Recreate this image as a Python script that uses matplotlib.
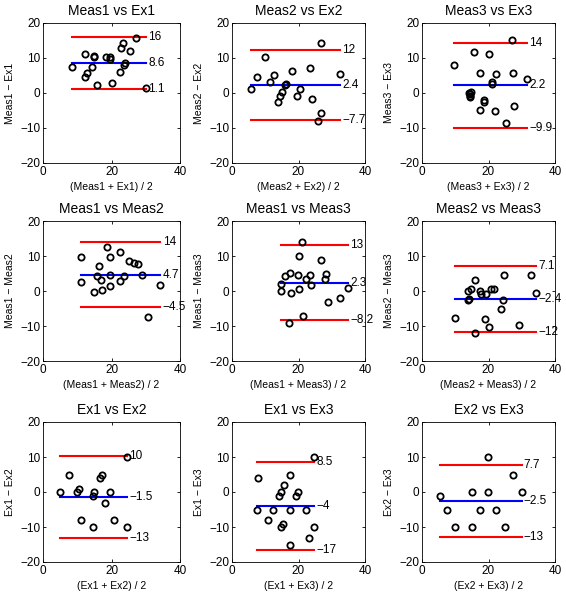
import numpy as np
import matplotlib
matplotlib.use("Agg")
import matplotlib.pyplot as plt

plt.rcParams['font.family'] = ['Liberation Sans', 'DejaVu Sans']

# mean of the two measurements (x) and their difference (y), per comparison
m1e1_avg = [8.6, 12.3, 12.9, 12.4, 14.3, 14.9, 15.0, 15.8, 18.5, 19.5, 19.7, 20.1, 22.5, 22.8, 23.4, 23.6, 23.8, 25.4, 27.1, 30.2]
m1e1_diff = [7.5, 11.1, 5.8, 4.7, 7.5, 10.3, 10.6, 2.3, 10.3, 10.3, 9.8, 2.8, 6.0, 12.9, 14.2, 7.9, 8.5, 11.9, 15.8, 1.5]

m2e2_avg = [5.6, 7.4, 9.9, 11.5, 12.5, 13.7, 14.4, 15.0, 16.0, 16.3, 18.0, 19.4, 20.5, 23.4, 24.0, 25.8, 26.9, 26.8, 32.5]
m2e2_diff = [1.2, 4.7, 10.2, 3.0, 5.2, -2.5, -1.0, 0.2, 2.4, 2.7, 6.3, -0.9, 1.1, 7.0, -1.8, -8.1, -5.7, 14.2, 5.4]

m3e3_avg = [9.7, 15.5, 14.2, 14.3, 14.4, 14.6, 14.5, 17.5, 17.3, 18.6, 18.6, 20.1, 21.2, 21.0, 22.2, 22.0, 25.4, 27.0, 27.4, 27.7, 31.7]
m3e3_diff = [7.9, 11.6, 0.0, -0.8, -1.1, 0.3, -0.4, 5.8, -5.0, -1.9, -2.6, 11.0, 3.2, 2.7, 5.3, -5.2, -8.5, 15.0, 5.8, -3.8, 4.0]

m1m2_avg = [11.0, 11.1, 15.0, 15.9, 16.3, 16.8, 17.1, 18.6, 19.5, 19.6, 19.6, 22.5, 22.5, 23.7, 25.0, 26.5, 27.7, 28.9, 30.8, 34.3]
m1m2_diff = [9.8, 2.7, -0.4, 4.3, 7.1, 3.2, 0.2, 12.7, 1.3, 9.8, 4.5, 11.1, 2.8, 4.3, 8.7, 8.0, 7.8, 4.5, -7.5, 1.7]

m1m3_avg = [14.7, 14.7, 15.8, 17.0, 17.4, 17.7, 19.7, 20.0, 20.0, 21.2, 21.5, 22.2, 23.5, 23.8, 26.7, 28.2, 28.0, 29.0, 32.5, 35.0]
m1m3_diff = [2.1, 0.1, 4.3, -9.2, 5.1, -0.7, 4.6, 10.0, 0.6, 14.1, -7.1, 3.5, 4.7, 1.7, 8.9, 5.0, 3.5, -3.0, -2.0, 0.8]

m2m3_avg = [9.9, 13.7, 13.8, 14.0, 15.8, 14.8, 15.8, 17.5, 17.6, 19.2, 19.0, 20.2, 20.9, 21.8, 23.7, 24.5, 24.6, 29.1, 32.9, 34.4]
m2m3_diff = [-7.6, -0.1, -2.5, -2.2, 3.1, 0.5, -11.9, 0.1, -0.8, -0.8, -8.1, -10.2, 0.7, 0.7, -5.1, -2.7, 4.5, -9.6, 4.5, -0.7]

e1e2_avg = [5.0, 7.5, 10.0, 10.5, 11.0, 14.6, 14.5, 15.0, 16.6, 17.2, 18.1, 19.5, 20.6, 24.4, 24.5]
e1e2_diff = [0, 5, 0, 1, -8, -10, -1, 0, 4, 5, -3, 0, -8, -10, 10]

e1e3_avg = [7.4, 7.9, 10.9, 12.3, 14.2, 14.7, 14.7, 15.3, 15.7, 17.3, 17.4, 17.4, 19.3, 19.9, 22.3, 23.1, 24.7, 24.8]
e1e3_diff = [-5, 4, -8, -5, -1, 0, -10, -9, 2, 5, -5, -15, -1, 0, -5, -13, -10, 10]

e2e3_avg = [5.4, 7.4, 9.8, 14.9, 14.9, 17.4, 19.9, 19.9, 22.4, 24.9, 27.3, 30.0]
e2e3_diff = [-1, -5, -10, 0, -10, -5, 10, 0, -5, -10, 5, 0]

# mean difference and limits of agreement (lower, upper)
means = [8.6, 2.4, 2.2, 4.7, 2.3, -2.4, -1.5, -4.0, -2.5]
lower = [1.1, -7.7, -9.9, -4.5, -8.2, -11.7, -13.2, -16.6, -12.8]
upper = [16.1, 12.4, 14.2, 14.0, 13.1, 7.1, 10.4, 8.5, 7.7]

names = [("Meas1", "Ex1"), ("Meas2", "Ex2"), ("Meas3", "Ex3"),
         ("Meas1", "Meas2"), ("Meas1", "Meas3"), ("Meas2", "Meas3"),
         ("Ex1", "Ex2"), ("Ex1", "Ex3"), ("Ex2", "Ex3")]

avgs = [m1e1_avg, m2e2_avg, m3e3_avg, m1m2_avg, m1m3_avg, m2m3_avg, e1e2_avg, e1e3_avg, e2e3_avg]
diffs = [m1e1_diff, m2e2_diff, m3e3_diff, m1m2_diff, m1m3_diff, m2m3_diff, e1e2_diff, e1e3_diff, e2e3_diff]

W, H = 566, 598
lefts = [43, 232, 422]
widths = [137, 133, 133]
tops = [23, 221, 422]
height = 140


def fmt(v):
    return ("%.2g" % v).replace("-", "\u2212")


fig = plt.figure(figsize=(W / 100, H / 100), dpi=100)

for i in range(9):
    r, c = divmod(i, 3)
    ax = fig.add_axes([lefts[c] / W, 1 - (tops[r] + height) / H, widths[c] / W, height / H])
    a, b = names[i]
    x = np.array(avgs[i])
    y = np.array(diffs[i])
    x0, x1 = x.min(), x.max()

    ax.plot(x, y, 'o', mfc='none', mec='black', ms=4.5, mew=1.3, zorder=3)
    ax.plot([x0, x1], [means[i], means[i]], color='#0000ff', lw=1.5)
    ax.plot([x0, x1], [lower[i], lower[i]], color='#ff0000', lw=1.5)
    ax.plot([x0, x1], [upper[i], upper[i]], color='#ff0000', lw=1.5)
    for v in (upper[i], means[i], lower[i]):
        ax.annotate(fmt(v), (x1, v), xytext=(1.5, 0), textcoords='offset points',
                    va='center', ha='left', fontsize=8.5, annotation_clip=False)

    ax.set_xlim(0, 40)
    ax.set_ylim(-20, 20)
    ax.set_xticks([0, 20, 40])
    ax.set_yticks([-20, -10, 0, 10, 20])
    ax.tick_params(direction='in', length=2.5, width=0.6, labelsize=8.5,
                   top=True, right=True, pad=2)
    for s in ax.spines.values():
        s.set_linewidth(0.6)
    ax.set_title(a + " vs " + b, fontsize=10, pad=6)
    ax.set_xlabel("(" + a + " + " + b + ") / 2", fontsize=7.5, labelpad=3)
    ax.set_ylabel(a + " \u2212 " + b, fontsize=7.5, labelpad=4)

fig.savefig("out.png", dpi=100)
